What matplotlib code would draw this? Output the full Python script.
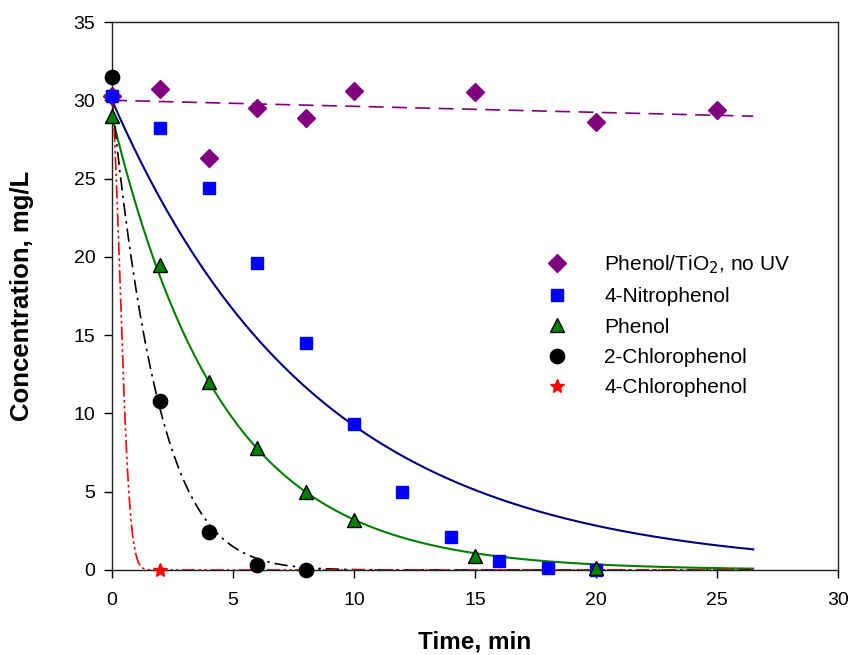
import numpy as np
import matplotlib
matplotlib.use("Agg")
import matplotlib.pyplot as plt

plt.rcParams['font.family'] = ['Liberation Sans', 'DejaVu Sans']

# Measured concentrations (mg/L) versus irradiation time (min)
t_dark = [0, 2, 4, 6, 8, 10, 15, 20, 25]
c_dark = [30.3, 30.7, 26.3, 29.5, 28.9, 30.6, 30.5, 28.6, 29.4]

t_np = [0, 2, 4, 6, 8, 10, 12, 14, 16, 18, 20]
c_np = [30.3, 28.2, 24.4, 19.6, 14.5, 9.3, 5.0, 2.1, 0.6, 0.1, 0.0]

t_ph = [0, 2, 4, 6, 8, 10, 15, 20]
c_ph = [29.0, 19.5, 12.0, 7.8, 5.0, 3.2, 0.9, 0.1]

t_2cp = [0, 2, 4, 6, 8]
c_2cp = [31.5, 10.8, 2.4, 0.35, 0.0]

t_4cp = [0, 2]
c_4cp = [30.3, 0.0]

# Fitted decay parameters: (C0, k1, k2) for C = C0 * exp(-k1*t - k2*t^2)
fit_dark = (30.0, 0.0013, 0.0)
fit_np = (30.0, 0.118, 0.0)
fit_ph = (29.0, 0.22, 0.0)
fit_2cp = (30.0, 0.5, 0.02)
fit_4cp = (30.0, 0.5, 3.0)

t_fit = np.linspace(0, 26.5, 1000)


def decay(p):
    return p[0] * np.exp(-p[1] * t_fit - p[2] * t_fit ** 2)


fig = plt.figure(figsize=(8.5, 6.55), dpi=100)
ax = fig.add_axes([0.1318, 0.1298, 0.8541, 0.8366])

ax.plot(t_fit, decay(fit_dark), color='#800080', lw=1.2, ls=(0, (9, 5)), zorder=2)
ax.plot(t_fit, decay(fit_np), color='#000080', lw=1.5, zorder=2)
ax.plot(t_fit, decay(fit_ph), color='#008000', lw=1.5, zorder=2)
ax.plot(t_fit, decay(fit_2cp), color='black', lw=1.2, ls=(0, (8, 3, 1.5, 3)), zorder=2)
ax.plot(t_fit, decay(fit_4cp), color='red', lw=1.2, ls=(0, (8, 2, 1.5, 2, 1.5, 2)), zorder=2)

ax.plot(t_dark, c_dark, ls='none', marker='D', ms=9, color='#800080',
        mec='#800080', label='Phenol/TiO$_2$, no UV', zorder=3, clip_on=False)
ax.plot(t_np, c_np, ls='none', marker='s', ms=9, color='#0000ff',
        mec='#0000ff', label='4-Nitrophenol', zorder=3.5, clip_on=False)
ax.plot(t_ph, c_ph, ls='none', marker='^', ms=10.5, color='#008000',
        mec='black', mew=1.0, label='Phenol', zorder=4, clip_on=False)
ax.plot(t_2cp, c_2cp, ls='none', marker='o', ms=10.3, color='black',
        label='2-Chlorophenol', zorder=3, clip_on=False)
ax.plot(t_4cp, c_4cp, ls='none', marker='*', ms=10, color='red',
        mec='red', label='4-Chlorophenol', zorder=3.2, clip_on=False)

ax.set_xlim(0, 30)
ax.set_ylim(0, 35)
ax.set_xticks([0, 5, 10, 15, 20, 25, 30])
ax.set_yticks([0, 5, 10, 15, 20, 25, 30, 35])
ax.tick_params(direction='out', length=6, width=1, labelsize=14)
ax.tick_params(axis='y', pad=6)
ax.tick_params(axis='x', pad=10)
for s in ax.spines.values():
    s.set_linewidth(1.0)
    s.set_color('#222222')

ax.set_xlabel('Time, min', fontsize=17.5, fontweight='bold')
ax.set_ylabel('Concentration, mg/L', fontsize=18.5, fontweight='bold')
ax.xaxis.set_label_coords(0.5, -0.111)
ax.yaxis.set_label_coords(-0.108, 0.5)

ax.legend(loc='upper left', bbox_to_anchor=(0.5868, 0.5925), frameon=False,
          fontsize=15, handlelength=1.0, handletextpad=1.77, labelspacing=0.54,
          borderaxespad=0)

fig.savefig('out.png', dpi=100)
